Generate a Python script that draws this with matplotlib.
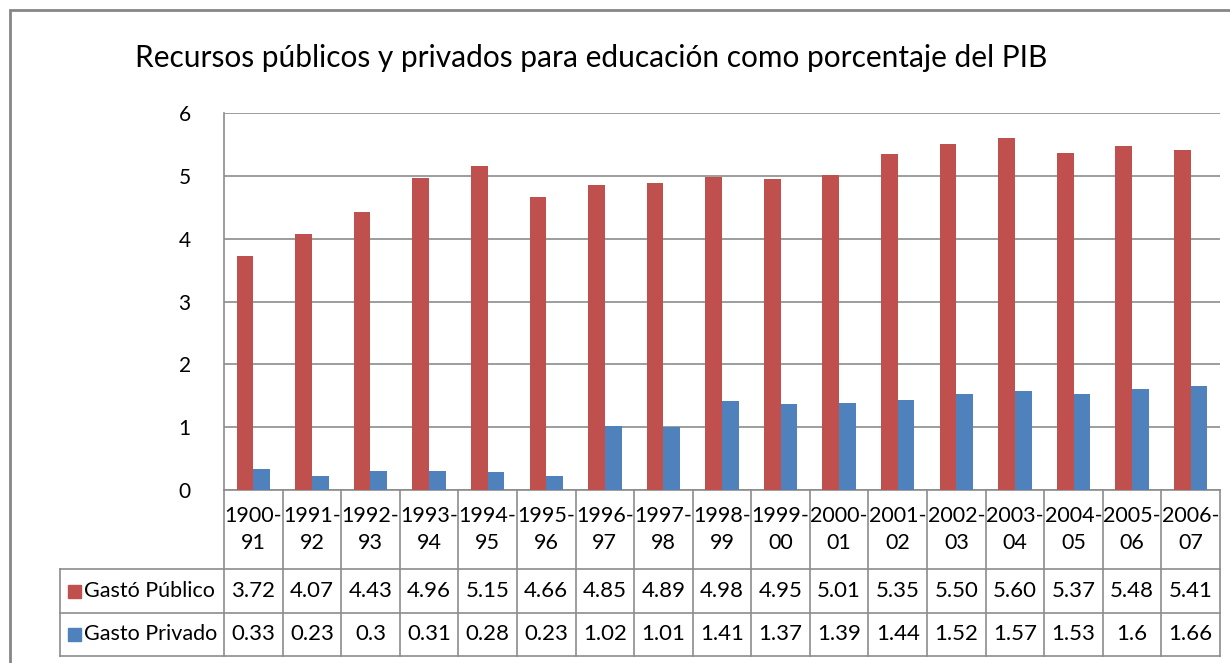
import matplotlib
matplotlib.use('Agg')
import matplotlib.pyplot as plt
from matplotlib.patches import Rectangle
import numpy as np

# Datos
periodos = ['1900-\n91', '1991-\n92', '1992-\n93', '1993-\n94', '1994-\n95', '1995-\n96',
            '1996-\n97', '1997-\n98', '1998-\n99', '1999-\n00', '2000-\n01', '2001-\n02',
            '2002-\n03', '2003-\n04', '2004-\n05', '2005-\n06', '2006-\n07']
gasto_publico = [3.72, 4.07, 4.43, 4.96, 5.15, 4.66, 4.85, 4.89, 4.98, 4.95, 5.01,
                 5.35, 5.50, 5.60, 5.37, 5.48, 5.41]
gasto_privado = [0.33, 0.23, 0.3, 0.31, 0.28, 0.23, 1.02, 1.01, 1.41, 1.37, 1.39,
                 1.44, 1.52, 1.57, 1.53, 1.6, 1.66]
texto_publico = ['3.72', '4.07', '4.43', '4.96', '5.15', '4.66', '4.85', '4.89', '4.98',
                 '4.95', '5.01', '5.35', '5.50', '5.60', '5.37', '5.48', '5.41']
texto_privado = ['0.33', '0.23', '0.3', '0.31', '0.28', '0.23', '1.02', '1.01', '1.41',
                 '1.37', '1.39', '1.44', '1.52', '1.57', '1.53', '1.6', '1.66']
series = ['Gastó Público', 'Gasto Privado']
colores = ['#C0504D', '#4F81BD']

plt.rcParams['font.family'] = ['Lato', 'DejaVu Sans']

W, H = 1230, 663
fig = plt.figure(figsize=(W / 100, H / 100), dpi=100)

# Marco exterior del gráfico
fig.patches.append(Rectangle((10 / W, -0.05), 1.2, (H - 10) / H + 0.05,
                             transform=fig.transFigure, fill=False,
                             edgecolor='#868686', linewidth=2))

izq, der, arr, aba = 224, 1220, 113, 490
ax = fig.add_axes([izq / W, (H - aba) / H, (der - izq) / W, (aba - arr) / H])

x = np.arange(len(periodos))
ancho = 0.285
ax.bar(x - ancho / 2, gasto_publico, ancho, color=colores[0], zorder=3)
ax.bar(x + ancho / 2, gasto_privado, ancho, color=colores[1], zorder=3)

ax.set_xlim(-0.5, len(periodos) - 0.5)
ax.set_ylim(0, 6)
ax.set_yticks(range(0, 7))
ax.set_xticks([])
ax.grid(axis='y', color='#8C8C8C', linewidth=1.2, zorder=0)
for s in ['top', 'right', 'bottom']:
    ax.spines[s].set_visible(False)
ax.spines['left'].set_color('#8C8C8C')
ax.spines['left'].set_linewidth(1.2)
ax.tick_params(axis='y', length=0, labelsize=15, pad=24)

# Tabla de datos
alto = aba - arr
y_fil = [0, -(569 - aba) / alto, -(613 - aba) / alto, -(656 - aba) / alto]
x_leg = -(izq - 60) / (der - izq)
trans = ax.get_xaxis_transform()
kw = dict(color='#8C8C8C', linewidth=1.2, clip_on=False)

# lineas horizontales
ax.plot([-0.5, len(periodos) - 0.5], [y_fil[0]] * 2, transform=trans, **kw)
for yy in y_fil[1:]:
    ax.plot([x_leg, 1], [yy] * 2, transform=ax.transAxes, **kw)
# lineas verticales
for b in np.arange(len(periodos) + 1) - 0.5:
    ax.plot([b, b], [y_fil[0], y_fil[3]], transform=trans, **kw)
ax.plot([x_leg, x_leg], [y_fil[1], y_fil[3]], transform=ax.transAxes, **kw)

for i, p in enumerate(periodos):
    ax.text(i, (y_fil[0] + y_fil[1]) / 2, p, transform=trans, ha='center',
            va='center', fontsize=15.5, linespacing=1.45)
    ax.text(i, (y_fil[1] + y_fil[2]) / 2, texto_publico[i], transform=trans,
            ha='center', va='center', fontsize=16)
    ax.text(i, (y_fil[2] + y_fil[3]) / 2, texto_privado[i], transform=trans,
            ha='center', va='center', fontsize=16)

for k, nombre in enumerate(series):
    yc = (y_fil[k + 1] + y_fil[k + 2]) / 2
    xm = x_leg + 8 / (der - izq)
    ax.add_patch(Rectangle((xm, yc - 6.5 / alto), 13 / (der - izq), 13 / alto,
                           transform=ax.transAxes, color=colores[k], clip_on=False))
    ax.text(xm + 16 / (der - izq), yc, nombre, transform=ax.transAxes,
            ha='left', va='center', fontsize=15.5)

fig.text(591 / W, (H - 58) / H, 'Recursos públicos y privados para educación como porcentaje del PIB',
         ha='center', va='center', fontsize=21.5)

plt.savefig('out.png', dpi=100)
